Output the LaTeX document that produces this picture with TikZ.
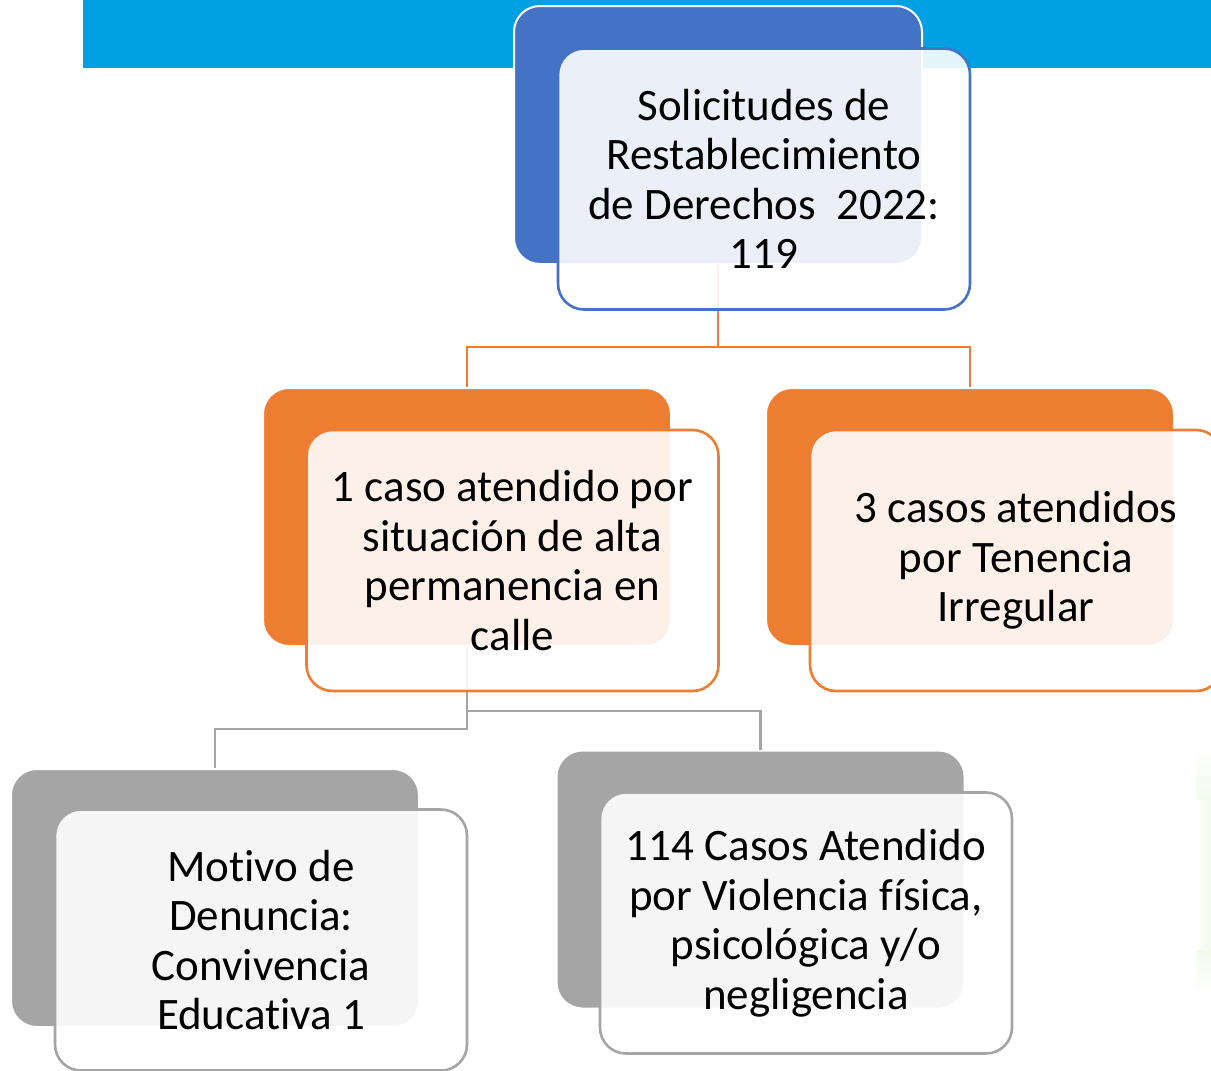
\documentclass[tikz,border=0pt]{standalone}
\usepackage{fontspec}
\setmainfont[Ligatures={NoCommon}]{Carlito}
\definecolor{band}{RGB}{0,160,227}
\definecolor{dblue}{RGB}{68,114,196}
\definecolor{dorange}{RGB}{237,125,49}
\definecolor{dgray}{RGB}{165,165,165}
\definecolor{glow}{RGB}{241,250,234}
\tikzset{
  backbox/.style={draw=white, line width=2pt, rounded corners=26pt, minimum width=408pt, minimum height=258pt, inner sep=0pt},
  frontbox/.style={fill=white, fill opacity=0.89, text opacity=1, line width=2.6pt, rounded corners=26pt, minimum width=412pt, minimum height=261pt, inner sep=0pt, align=center, font=\fontsize{45}{49.5}\selectfont},
  oconn/.style={draw=dorange, line width=2.5pt},
  gconn/.style={draw=dgray, line width=2.5pt}
}
\begin{document}
\begin{tikzpicture}[x=1pt,y=-1pt]
\useasboundingbox (0,0) rectangle (1211,1071);
\clip (0,0) rectangle (1211,1071);
\fill[white] (0,0) rectangle (1211,1071);
% faint glow at right edge
\shade[top color=white, bottom color=glow] (1196,748) rectangle (1211,800);
\shade[left color=white, right color=glow] (1196,800) rectangle (1211,950);
\shade[top color=glow, bottom color=white] (1196,950) rectangle (1211,992);
% band
\fill[band] (83,0) rectangle (1211,68);
% back boxes
\node[backbox, fill=dblue] (topback) at (718,135) {};
\node[backbox, fill=dorange] (lback) at (467,517) {};
\node[backbox, fill=dorange] (rback) at (970,517) {};
\node[backbox, fill=dgray] (glback) at (215,898) {};
\node[backbox, fill=dgray] (grback) at (760.5,879.5) {};
% connectors
\coordinate (topmid) at (718,347);
\coordinate (lmidA) at (467,729);
\coordinate (lmidB) at (467,711);
\draw[oconn] (topback.south) -- (topmid) -| (lback.north);
\draw[oconn] (topmid) -| (rback.north);
\draw[gconn] (lback.south) -- (lmidA) -| (glback.north);
\draw[gconn] (lback.south) -- (lmidB) -| (grback.north);
% front boxes
\node[frontbox, draw=dblue] (topfront) at (764,179) {Solicitudes de\\Restablecimiento\\de Derechos\ \ 2022:\\119};
\node[frontbox, draw=dorange] (lfront) at (512.5,560.5) {1 caso atendido por\\situación de alta\\permanencia en\\calle};
\node[frontbox, draw=dorange] (rfront) at (1016,560.5) {3 casos atendidos\\por Tenencia\\Irregular};
\node[frontbox, draw=dgray] (glfront) at (261,940) {Motivo de\\Denuncia:\\Convivencia\\Educativa 1};
\node[frontbox, draw=dgray] (grfront) at (806,923) {114 Casos Atendido\\por Violencia física,\\psicológica y/o\\negligencia};
\end{tikzpicture}
\end{document}
